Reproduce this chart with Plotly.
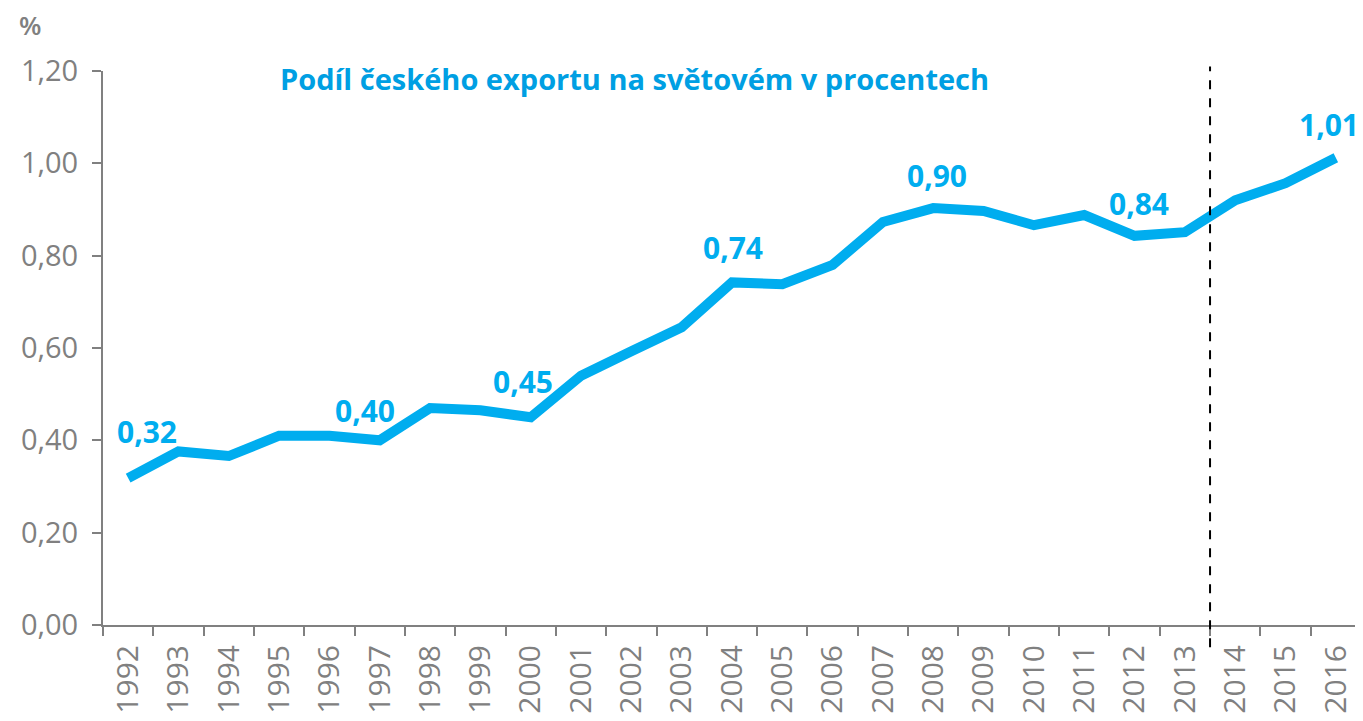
import plotly.graph_objects as go

# share of Czech export in world export, %
years = [str(y) for y in range(1992, 2017)]
share = [0.318, 0.376, 0.366, 0.41, 0.41, 0.40, 0.47, 0.465, 0.45, 0.54,
         0.593, 0.645, 0.742, 0.738, 0.78, 0.873, 0.903, 0.897, 0.866, 0.888,
         0.843, 0.851, 0.92, 0.957, 1.012]

label_years = ['1992', '1997', '2000', '2004', '2008', '2012', '2016']
label_xshift = [19, -15, -8, 1, 4, 4, -7]
label_yshift = [47, 30, 36, 35, 33, 32, 33]

split_after = '2013'
title_text = 'Podíl českého exportu na světovém v procentech'

BLUE = '#00adef'
GREY = '#808080'
FONT = 'Open Sans'


def label_annotations():
    anns = []
    for yr, dx, dy in zip(label_years, label_xshift, label_yshift):
        i = years.index(yr)
        v = share[i]
        anns.append(dict(x=i, y=v, text=f'{v:.2f}'.replace('.', ','),
                         showarrow=False, xshift=dx, yshift=dy,
                         font=dict(family=FONT, size=30, color=BLUE, weight='bold')))
    return anns


fig = go.Figure()
fig.add_trace(go.Scatter(x=years, y=share, mode='lines',
                         line=dict(color=BLUE, width=10),
                         hoverinfo='x+y', showlegend=False))

split_x = years.index(split_after) + 0.5
fig.add_shape(type='line', xref='x', yref='paper', x0=split_x, x1=split_x,
              y0=-0.04, y1=1.008, line=dict(color='black', width=2, dash='dash'))

anns = label_annotations()
anns.append(dict(xref='paper', yref='paper', x=0.139, y=0.987, xanchor='left',
                 yanchor='middle', text=title_text, showarrow=False,
                 font=dict(family=FONT, size=29, color='#009fe3', weight='bold')))
anns.append(dict(xref='paper', yref='paper', x=-0.058, y=1.083, text='%',
                 xanchor='center', yanchor='middle', showarrow=False,
                 font=dict(family=FONT, size=26, color=GREY, weight=600)))

# page body has an 8px margin, so the figure is sized to fit the window
fig.update_layout(
    width=1355, height=713,
    margin=dict(l=95, r=2, t=63, b=96),
    paper_bgcolor='white', plot_bgcolor='white',
    separators=', ',
    font=dict(family=FONT, color=GREY),
    annotations=anns,
    xaxis=dict(type='category', range=[-0.5, len(years) - 0.5], automargin=False,
               tickson='boundaries', ticks='outside', ticklabelstandoff=6,
               ticklen=9, tickwidth=2, tickcolor=GREY, showline=True,
               linecolor=GREY, linewidth=2, tickangle=-90, showgrid=False,
               tickfont=dict(family=FONT, size=30, color=GREY)),
    yaxis=dict(range=[0, 1.2], dtick=0.2, tickformat='.2f', ticks='outside',
               automargin=False, ticklabelstandoff=8,
               ticklen=9, tickwidth=2, tickcolor=GREY, showline=True,
               linecolor=GREY, linewidth=2, showgrid=False, zeroline=False,
               tickfont=dict(family=FONT, size=29, color=GREY)),
)

fig.write_html('out.html')
